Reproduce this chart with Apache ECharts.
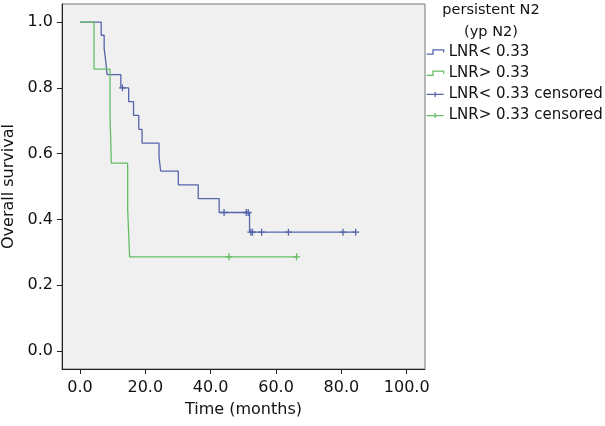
<!DOCTYPE html>
<html>
<head>
<meta charset="utf-8">
<script src="https://cdn.jsdelivr.net/npm/echarts@6/dist/echarts.min.js"></script>
<style>
html,body{margin:0;padding:0;background:#fff;}
#chart{width:605px;height:426px;}
</style>
</head>
<body>
<div id="chart"></div>
<script>
// ---- data ----
const lowTimes = [0, 6.5, 7.4, 7.9, 8.3, 12.5, 14.9, 16.4, 18.0, 19.0, 24.2, 24.7, 30.1, 36.2, 42.6, 51.9, 84.4];
const lowSurv  = [1, 0.96, 0.92, 0.88, 0.84, 0.80, 0.758, 0.716, 0.674, 0.632, 0.589, 0.547, 0.505, 0.463, 0.421, 0.361, 0.361];
const lowCensorTimes = [13.0, 44.1, 50.9, 51.5, 52.3, 52.8, 55.6, 63.8, 80.5, 84.4];
const lowCensorSurv  = [0.80, 0.421, 0.421, 0.421, 0.361, 0.361, 0.361, 0.361, 0.361, 0.361];

const highTimes = [0, 4.3, 9.2, 9.6, 14.6, 15.2, 66.3];
const highSurv  = [1, 0.857, 0.714, 0.571, 0.429, 0.286, 0.286];
const highCensorTimes = [45.6, 66.3];
const highCensorSurv  = [0.286, 0.286];

const xTicks = [0, 20, 40, 60, 80, 100];
const yTicks = [0, 0.2, 0.4, 0.6, 0.8, 1.0];

const seriesNames = ['LNR< 0.33', 'LNR> 0.33', 'LNR< 0.33 censored', 'LNR> 0.33 censored'];
const legendTitle = 'persistent N2\n(yp N2)';
const xName = 'Time (months)';
const yName = 'Overall survival';

// ---- styles ----
const BLUE = '#5565ab';
const GREEN = '#66bd66';
const FONT = 'DejaVu Sans';
const zip = (a, b) => a.map((v, i) => [v, b[i]]);
const PLUS = 'path://M0,5L10,5M5,0L5,10';
const STEP_ICON = 'path://M0,6L6,6L6,2L16,2L16,4.5';
const PLUS_ICON = 'path://M0,4L17,4M8.5,1.5L8.5,6.5';

const chart = echarts.init(document.getElementById('chart'), null, {renderer: 'canvas'});
chart.setOption({
  animation: false,
  textStyle: {fontFamily: FONT},
  title: {
    text: legendTitle,
    left: 491, top: -1, padding: 0, textAlign: 'center',
    textStyle: {fontFamily: FONT, fontSize: 14.5, fontWeight: 'normal', color: '#111', lineHeight: 22, align: 'center'}
  },
  legend: {
    orient: 'vertical', left: 426, top: 44, padding: 0,
    itemWidth: 17, itemHeight: 8, itemGap: 5.2,
    selectedMode: false,
    textStyle: {fontFamily: FONT, fontSize: 15, color: '#111', lineHeight: 16},
    data: [
      {name: seriesNames[0], icon: STEP_ICON, itemStyle: {color: 'rgba(0,0,0,0)', borderColor: BLUE, borderWidth: 1.3}},
      {name: seriesNames[1], icon: STEP_ICON, itemStyle: {color: 'rgba(0,0,0,0)', borderColor: GREEN, borderWidth: 1.3}},
      {name: seriesNames[2], icon: PLUS_ICON, itemStyle: {color: 'rgba(0,0,0,0)', borderColor: BLUE, borderWidth: 1.3}},
      {name: seriesNames[3], icon: PLUS_ICON, itemStyle: {color: 'rgba(0,0,0,0)', borderColor: GREEN, borderWidth: 1.3}}
    ]
  },
  grid: {
    left: 62, top: 4, right: 180, bottom: 57,
    containLabel: false, outerBoundsMode: 'none',
    show: true, backgroundColor: '#f0f0f0', borderColor: '#777', borderWidth: 1
  },
  xAxis: {
    type: 'value', min: -5.5, max: 105.6,
    name: xName, nameLocation: 'middle', nameGap: 33,
    nameTextStyle: {fontFamily: FONT, fontSize: 16, color: '#111'},
    axisLine: {show: true, onZero: false, lineStyle: {color: '#222', width: 1}},
    axisTick: {show: true, length: 5, lineStyle: {color: '#222'}, customValues: xTicks},
    axisLabel: {fontFamily: FONT, fontSize: 16, color: '#111', margin: 11, customValues: xTicks,
      formatter: v => v.toFixed(1)},
    splitLine: {show: false}
  },
  yAxis: {
    type: 'value', min: -0.055, max: 1.055,
    name: yName, nameLocation: 'middle', nameGap: 44, nameRotate: 90,
    nameTextStyle: {fontFamily: FONT, fontSize: 16, color: '#111'},
    axisLine: {show: true, onZero: false, lineStyle: {color: '#222', width: 1}},
    axisTick: {show: true, length: 5, lineStyle: {color: '#222'}, customValues: yTicks},
    axisLabel: {fontFamily: FONT, fontSize: 16, color: '#111', margin: 9, customValues: yTicks,
      formatter: v => v.toFixed(1)},
    splitLine: {show: false}
  },
  series: [
    {name: seriesNames[0], type: 'line', step: 'end', symbol: 'none', data: zip(lowTimes, lowSurv),
      itemStyle: {color: BLUE}, lineStyle: {color: BLUE, width: 1.3}, z: 2},
    {name: seriesNames[1], type: 'line', step: 'end', symbol: 'none', data: zip(highTimes, highSurv),
      itemStyle: {color: GREEN}, lineStyle: {color: GREEN, width: 1.3}, z: 3},
    {name: seriesNames[2], type: 'scatter', symbol: PLUS, symbolSize: 7, data: zip(lowCensorTimes, lowCensorSurv),
      itemStyle: {color: BLUE, borderColor: BLUE, borderWidth: 1.3, opacity: 1}, z: 4},
    {name: seriesNames[3], type: 'scatter', symbol: PLUS, symbolSize: 7, data: zip(highCensorTimes, highCensorSurv),
      itemStyle: {color: GREEN, borderColor: GREEN, borderWidth: 1.3, opacity: 1}, z: 4}
  ]
});
</script>
</body>
</html>
